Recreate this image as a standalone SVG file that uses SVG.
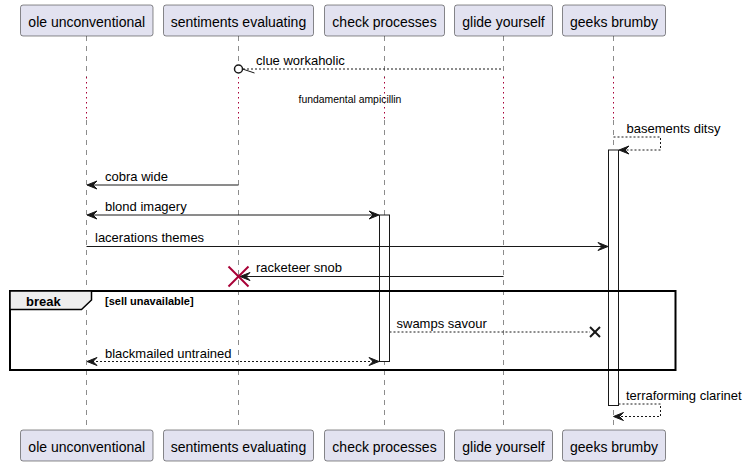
<svg xmlns="http://www.w3.org/2000/svg" width="745" height="466" viewBox="0 0 745 466">
<style>
.pbox{fill:#E2E2F0;stroke:#181818;stroke-width:0.5;}
.plbl{font-family:"Liberation Sans",Arial,sans-serif;font-size:14px;fill:#000;text-anchor:middle;}
.life{stroke:#181818;stroke-width:0.5;stroke-dasharray:5,5;fill:none;}
.delay{stroke:#A80036;stroke-width:1;stroke-dasharray:1.5,3.5;fill:none;}
.msg{stroke:#181818;stroke-width:1;fill:none;}
.dash{stroke:#181818;stroke-width:1;stroke-dasharray:2,2;fill:none;}
.ah{fill:#181818;stroke:#181818;stroke-width:1;}
.mt{font-family:"Liberation Sans",Arial,sans-serif;font-size:13px;fill:#000;}
.act{fill:#FFFFFF;stroke:#181818;stroke-width:1;}
</style>
<rect width="745" height="466" fill="#FFFFFF"/>

<g id="lifelines">
  <line class="life" x1="86.5" y1="36" x2="86.5" y2="77"/>
  <line class="delay" x1="86.5" y1="77" x2="86.5" y2="120"/>
  <line class="life" x1="86.5" y1="120" x2="86.5" y2="430"/>
  <line class="life" x1="238.5" y1="36" x2="238.5" y2="65"/>
  <line class="delay" x1="238.5" y1="77" x2="238.5" y2="120"/>
  <line class="life" x1="238.5" y1="120" x2="238.5" y2="430"/>
  <line class="life" x1="384.5" y1="36" x2="384.5" y2="77"/>
  <line class="delay" x1="384.5" y1="77" x2="384.5" y2="120"/>
  <line class="life" x1="384.5" y1="120" x2="384.5" y2="430"/>
  <line class="life" x1="503.5" y1="36" x2="503.5" y2="77"/>
  <line class="delay" x1="503.5" y1="77" x2="503.5" y2="120"/>
  <line class="life" x1="503.5" y1="120" x2="503.5" y2="430"/>
  <line class="life" x1="613.5" y1="36" x2="613.5" y2="77"/>
  <line class="delay" x1="613.5" y1="77" x2="613.5" y2="120"/>
  <line class="life" x1="613.5" y1="120" x2="613.5" y2="430"/>
</g>

<g id="activations">
  <rect class="act" x="608.5" y="150" width="10" height="255.5"/>
  <rect class="act" x="379.5" y="215" width="10" height="146.5"/>
</g>

<g id="p_ole">
  <rect class="pbox" x="20.5" y="5" width="132.5" height="31" rx="2.5"/>
  <text class="plbl" x="86.75" y="27">ole unconventional</text>
  <rect class="pbox" x="20.5" y="430" width="132.5" height="31" rx="2.5"/>
  <text class="plbl" x="86.75" y="452">ole unconventional</text>
</g>
<g id="p_sentiments">
  <rect class="pbox" x="163.5" y="5" width="150" height="31" rx="2.5"/>
  <text class="plbl" x="238.5" y="27">sentiments evaluating</text>
  <rect class="pbox" x="163.5" y="430" width="150" height="31" rx="2.5"/>
  <text class="plbl" x="238.5" y="452">sentiments evaluating</text>
</g>
<g id="p_check">
  <rect class="pbox" x="324.5" y="5" width="120" height="31" rx="2.5"/>
  <text class="plbl" x="384.5" y="27">check processes</text>
  <rect class="pbox" x="324.5" y="430" width="120" height="31" rx="2.5"/>
  <text class="plbl" x="384.5" y="452">check processes</text>
</g>
<g id="p_glide">
  <rect class="pbox" x="454.5" y="5" width="98" height="31" rx="2.5"/>
  <text class="plbl" x="503.5" y="27">glide yourself</text>
  <rect class="pbox" x="454.5" y="430" width="98" height="31" rx="2.5"/>
  <text class="plbl" x="503.5" y="452">glide yourself</text>
</g>
<g id="p_geeks">
  <rect class="pbox" x="562.5" y="5" width="103" height="31" rx="2.5"/>
  <text class="plbl" x="614" y="27">geeks brumby</text>
  <rect class="pbox" x="562.5" y="430" width="103" height="31" rx="2.5"/>
  <text class="plbl" x="614" y="452">geeks brumby</text>
</g>

<g id="frame_break">
  <rect x="10" y="291" width="665.5" height="79" fill="none" stroke="#000" stroke-width="2"/>
  <path d="M10,291 L91.5,291 L91.5,300 L81.5,309.5 L10,309.5 Z" fill="#EEEEEE" stroke="#000" stroke-width="1.5"/>
  <text x="26" y="306" font-family="'Liberation Sans',Arial,sans-serif" font-size="13" font-weight="bold" fill="#000">break</text>
  <text x="105" y="305" font-family="'Liberation Sans',Arial,sans-serif" font-size="11" font-weight="bold" fill="#000">[sell unavailable]</text>
</g>

<g id="delay_text">
  <text x="350" y="103" text-anchor="middle" font-family="'Liberation Sans',Arial,sans-serif" font-size="10.4" fill="#000">fundamental ampicillin</text>
</g>

<g id="connectors">
  <!-- clue workaholic -->
  <line class="dash" x1="243" y1="69" x2="503" y2="69"/>
  <circle cx="238.5" cy="69" r="4" fill="#FFFFFF" stroke="#181818" stroke-width="1.5"/>
  <line x1="242.5" y1="69" x2="254.5" y2="73" stroke="#181818" stroke-width="1"/>
  <text class="mt" x="256" y="65">clue workaholic</text>

  <!-- basements ditsy -->
  <polyline class="dash" points="613.5,137 660.5,137 660.5,150 620,150"/>
  <polygon class="ah" points="619,150 629,146 625,150 629,154"/>
  <text class="mt" x="626.5" y="133">basements ditsy</text>

  <!-- cobra wide -->
  <line class="msg" x1="238.5" y1="185" x2="88" y2="185"/>
  <polygon class="ah" points="87,185 97,181 93,185 97,189"/>
  <text class="mt" x="105" y="181">cobra wide</text>

  <!-- blond imagery -->
  <line class="msg" x1="88" y1="215" x2="378" y2="215"/>
  <polygon class="ah" points="87,215 97,211 93,215 97,219"/>
  <polygon class="ah" points="379,215 369,211 373,215 369,219"/>
  <text class="mt" x="105" y="211">blond imagery</text>

  <!-- lacerations themes -->
  <line class="msg" x1="86.5" y1="246.5" x2="607" y2="246.5"/>
  <polygon class="ah" points="608,246.5 598,242.5 602,246.5 598,250.5"/>
  <text class="mt" x="95" y="242">lacerations themes</text>

  <!-- racketeer snob -->
  <line class="msg" x1="503.5" y1="276.5" x2="241" y2="276.5"/>
  <polygon class="ah" points="240,276.5 250,272.5 246,276.5 250,280.5"/>
  <line x1="228.5" y1="266.5" x2="248.5" y2="286.5" stroke="#A80036" stroke-width="2"/>
  <line x1="228.5" y1="286.5" x2="248.5" y2="266.5" stroke="#A80036" stroke-width="2"/>
  <text class="mt" x="256" y="272">racketeer snob</text>

  <!-- swamps savour -->
  <line class="dash" x1="389.5" y1="332" x2="590" y2="332"/>
  <line x1="590" y1="327" x2="600" y2="337" stroke="#181818" stroke-width="2"/>
  <line x1="590" y1="337" x2="600" y2="327" stroke="#181818" stroke-width="2"/>
  <text class="mt" x="396.5" y="328">swamps savour</text>

  <!-- blackmailed untrained -->
  <line class="dash" x1="88" y1="361.5" x2="378" y2="361.5"/>
  <polygon class="ah" points="87,361.5 97,357.5 93,361.5 97,365.5"/>
  <polygon class="ah" points="379,361.5 369,357.5 373,361.5 369,365.5"/>
  <text class="mt" x="105" y="357.5">blackmailed untrained</text>

  <!-- terraforming clarinet -->
  <polyline class="dash" points="618.5,404 660.5,404 660.5,416.5 614.5,416.5"/>
  <polygon class="ah" points="613.5,416.5 623.5,412.5 619.5,416.5 623.5,420.5"/>
  <text class="mt" x="626" y="400">terraforming clarinet</text>
</g>
</svg>
